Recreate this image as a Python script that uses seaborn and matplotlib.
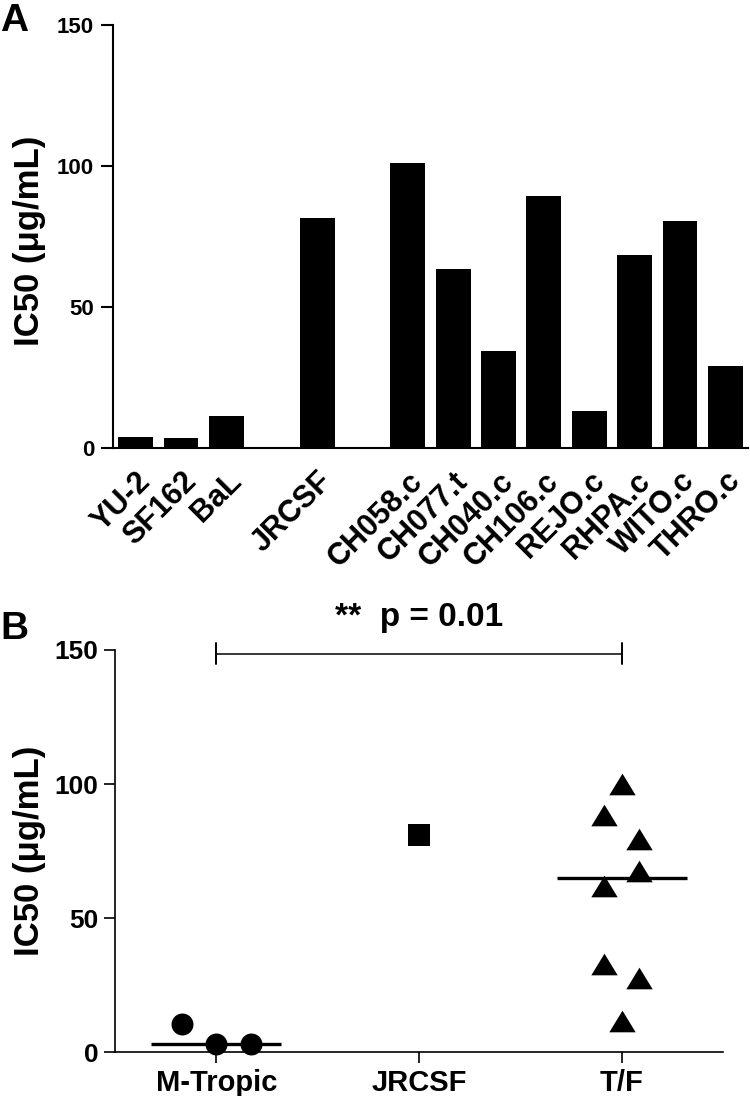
import numpy as np
import pandas as pd
import matplotlib
matplotlib.use("Agg")
import matplotlib.pyplot as plt
import seaborn as sns

# ---------------- data ----------------
# Panel A: IC50 per virus
viruses = ["YU-2", "SF162", "BaL", "JRCSF", "CH058.c", "CH077.t", "CH040.c",
           "CH106.c", "REJO.c", "RHPA.c", "WITO.c", "THRO.c"]
ic50_a = [4.0, 3.7, 11.2, 81.5, 101.0, 63.4, 34.5, 89.5, 13.2, 68.5, 80.4, 29.2]
# category order with two blank spacer slots (gaps between groups)
bar_order = ["YU-2", "SF162", "BaL", "", "JRCSF", " ", "CH058.c", "CH077.t",
             "CH040.c", "CH106.c", "REJO.c", "RHPA.c", "WITO.c", "THRO.c"]

# Panel B: grouped scatter
groups = ["M-Tropic", "JRCSF", "T/F"]
mtropic_vals = [10.5, 3.0, 3.0]
jrcsf_vals = [81.0]
tf_vals = [100.0, 88.5, 79.5, 67.5, 62.0, 33.0, 27.5, 11.5]
y_ticks = [0, 50, 100, 150]
p_label = "**  p = 0.01"
y_title = "IC50 (\u03bcg/mL)"

# horizontal placement (scatter dodge) of points within each group
mtropic_offsets = [-0.17, 0.0, 0.17]
jrcsf_offsets = [0.0]
tf_offsets = [0.0, -0.085, 0.085, 0.085, -0.085, -0.085, 0.085, 0.0]

# ---------------- style ----------------
sns.set_style("ticks")
plt.rcParams["font.family"] = ["Liberation Sans", "DejaVu Sans"]
plt.rcParams["font.weight"] = "bold"
plt.rcParams["axes.labelweight"] = "bold"
for k in ("text.color", "axes.labelcolor", "xtick.color", "ytick.color",
          "axes.edgecolor"):
    plt.rcParams[k] = "black"

W, H = 750, 1096
fig = plt.figure(figsize=(W / 100, H / 100), dpi=100)

def box(l, t, r, b):
    return [l / W, 1 - b / H, (r - l) / W, (b - t) / H]

axA = fig.add_axes(box(113, 25, 748, 448))
axB = fig.add_axes(box(115, 650, 723, 1052))

# ---------------- Panel A ----------------
dfA = pd.DataFrame({"virus": viruses, "ic50": ic50_a})
sns.barplot(data=dfA, x="virus", y="ic50", order=bar_order, color="black",
            saturation=1, width=0.77, errorbar=None, ax=axA, linewidth=0)
axA.set_xlim(-0.5, len(bar_order) - 0.5)
axA.set_ylim(0, 150)
axA.set_yticks(y_ticks)
axA.set_yticklabels([str(t) for t in y_ticks], fontsize=16, fontweight="bold")
axA.set_xticks(range(len(bar_order)))
axA.set_xticklabels(bar_order, rotation=45, ha="right", va="top",
                    rotation_mode="anchor", fontsize=22, fontweight="bold")
axA.tick_params(axis="x", length=0, pad=13)
axA.tick_params(axis="y", length=8.5, width=1.5, pad=5)
axA.set_xlabel("")
axA.set_ylabel(y_title, fontsize=25, fontweight="bold")
axA.yaxis.set_label_coords(-0.105, 0.49)
sns.despine(ax=axA)
for s in ("left", "bottom"):
    axA.spines[s].set_linewidth(1.5)

# ---------------- Panel B ----------------
rows = []
for gi, (g, vals, offs) in enumerate(zip(groups,
                                         [mtropic_vals, jrcsf_vals, tf_vals],
                                         [mtropic_offsets, jrcsf_offsets, tf_offsets])):
    for v, o in zip(vals, offs):
        rows.append({"group": g, "ic50": v, "xpos": gi + o})
dfB = pd.DataFrame(rows)

tri = [(-1.0, -0.82), (1.0, -0.82), (0.0, 0.82)]
marker_map = {"M-Tropic": "o", "JRCSF": "s", "T/F": tri}
size_map = {"M-Tropic": 250, "JRCSF": 250, "T/F": 361}
for g in groups:
    sub = dfB[dfB["group"] == g]
    sns.scatterplot(data=sub, x="xpos", y="ic50", marker=marker_map[g],
                    s=size_map[g], color="black", linewidth=0, legend=False,
                    ax=axB, clip_on=False, zorder=3)

# median lines for groups with several points
for gi, vals in enumerate([mtropic_vals, jrcsf_vals, tf_vals]):
    if len(vals) > 1:
        axB.hlines(np.median(vals), gi - 0.32, gi + 0.32, color="black",
                   linewidth=2.4, zorder=4, clip_on=False)

axB.set_xlim(-0.5, 2.5)
axB.set_ylim(0, 150)
axB.set_xticks(range(len(groups)))
axB.set_xticklabels(groups, fontsize=21, fontweight="bold")
axB.set_yticks(y_ticks)
axB.set_yticklabels([str(t) for t in y_ticks], fontsize=19, fontweight="bold")
axB.tick_params(axis="both", length=8, width=1.2)
axB.tick_params(axis="x", pad=4)
axB.tick_params(axis="y", pad=4)
axB.set_xlabel("")
axB.set_ylabel(y_title, fontsize=25, fontweight="bold")
axB.yaxis.set_label_coords(-0.113, 0.5)
sns.despine(ax=axB)
for s in ("left", "bottom"):
    axB.spines[s].set_linewidth(1.2)

# significance bracket between M-Tropic and T/F
yb = 148.5
axB.plot([0, 2], [yb, yb], color="black", lw=1.1, clip_on=False)
axB.plot([0, 0], [144.8, 152.6], color="black", lw=1.4, clip_on=False)
axB.plot([2, 2], [144.8, 152.6], color="black", lw=1.4, clip_on=False)
axB.text(1, 156.5, p_label, ha="center", va="bottom", fontsize=24,
         fontweight="bold", clip_on=False)

# panel letters
fig.text(0 / W, 1 - 3 / H, "A", fontsize=28, fontweight="bold", ha="left", va="top")
fig.text(0 / W, 1 - 611 / H, "B", fontsize=28, fontweight="bold", ha="left", va="top")

fig.savefig("out.png", dpi=100)
